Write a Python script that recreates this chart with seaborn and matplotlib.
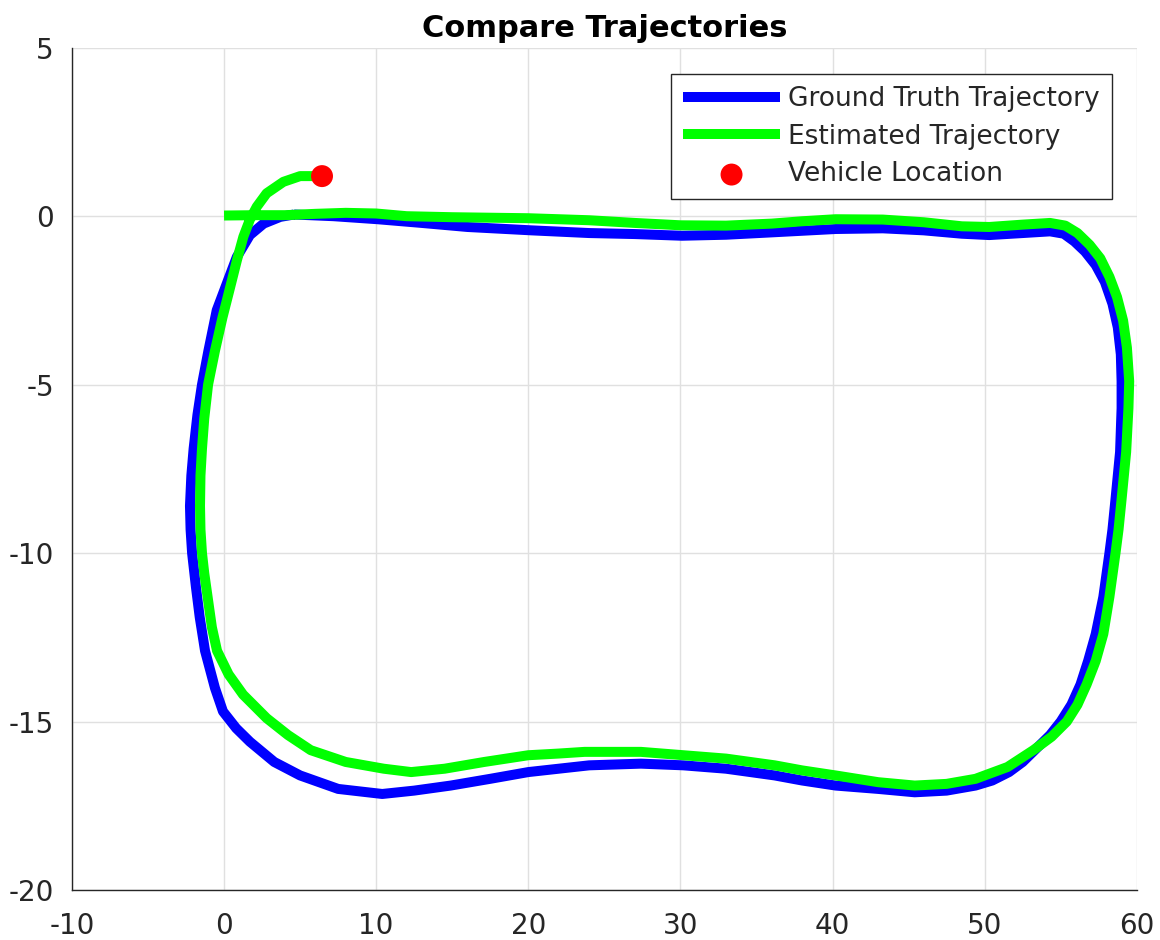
import matplotlib
matplotlib.use("Agg")
import matplotlib.pyplot as plt
import seaborn as sns
import pandas as pd

# Ground truth trajectory (closed loop)
gt_x = [4.6, 7.2, 10.1, 13, 16, 20.2, 24, 27, 30.1, 33, 36, 40.2, 43.3, 46, 48.5, 50.3,
        52.5, 54.3, 55.2, 55.9, 56.6, 57.3, 57.9, 58.4, 58.75, 58.95, 59.0, 59.0, 58.9,
        58.6, 58.4, 58.2, 57.8, 57.3, 56.8, 56.3, 55.7, 55.0, 54.3, 53.4, 52.5, 51.6, 50.5,
        49.4, 47.5, 45.4, 43, 40.2, 38, 36.2, 33, 30.2, 27.4, 24, 20, 17.5, 14.9, 12.5,
        10.4, 7.5, 5.0, 3.3, 1.7, 0.8, -0.07, -0.6, -1.25, -1.6, -1.85, -2.1, -2.2, -2.24,
        -2.15, -2.0, -1.75, -1.45, -1.03, -0.48, 0.18, 0.84, 1.7, 2.6, 3.7, 4.6]
gt_y = [0.05, 0.0, -0.09, -0.2, -0.32, -0.42, -0.5, -0.53, -0.58, -0.55, -0.48, -0.38,
        -0.36, -0.42, -0.52, -0.56, -0.5, -0.45, -0.52, -0.75, -1.05, -1.45, -1.95, -2.6,
        -3.3, -4.1, -4.9, -5.7, -7.0, -8.4, -9.3, -10.0, -11.3, -12.4, -13.2, -13.9, -14.5,
        -15.0, -15.4, -15.8, -16.2, -16.5, -16.75, -16.9, -17.05, -17.1, -17.0, -16.9,
        -16.75, -16.6, -16.4, -16.3, -16.25, -16.3, -16.5, -16.7, -16.9, -17.05, -17.15,
        -17.0, -16.6, -16.2, -15.6, -15.2, -14.7, -14.0, -12.9, -11.9, -11.0, -10.0, -9.3,
        -8.6, -7.7, -6.9, -5.9, -5.0, -4.0, -2.79, -2.0, -1.21, -0.56, -0.22, -0.02, 0.05]

# Estimated trajectory
est_x = [0, 2, 4, 6, 8, 10, 12, 15, 20, 24, 27, 30, 33, 36, 38, 40.2, 43.3, 46, 48.5, 50.3,
         52.5, 54.3, 55.3, 56.1, 56.9, 57.6, 58.2, 58.7, 59.1, 59.35, 59.5, 59.45, 59.3,
         59.0, 58.8, 58.6, 58.2, 57.8, 57.3, 56.7, 56.1, 55.4, 54.4, 53.2, 51.5, 49.4, 47.5,
         45.4, 43, 40.2, 38, 36.2, 33, 30.2, 27.4, 23.7, 22, 20.0, 17.1, 14.5, 12.3, 10.5,
         8, 5.7, 4.2, 2.8, 1.25, 0.3, -0.46, -0.8, -1.05, -1.3, -1.45, -1.55, -1.58, -1.55,
         -1.45, -1.3, -1.05, -0.6, -0.1, 0.35, 0.85, 1.27, 1.7, 2.15, 2.8, 3.9, 5.0, 6.44]
est_y = [0.02, 0.03, 0.03, 0.07, 0.1, 0.08, 0.0, -0.03, -0.06, -0.12, -0.2, -0.27, -0.28,
         -0.22, -0.15, -0.09, -0.1, -0.18, -0.3, -0.32, -0.25, -0.2, -0.28, -0.5, -0.85,
         -1.25, -1.8, -2.4, -3.1, -3.9, -4.9, -5.7, -7.0, -8.4, -9.3, -10.0, -11.3, -12.4,
         -13.2, -13.9, -14.5, -15.0, -15.45, -15.85, -16.35, -16.7, -16.85, -16.9, -16.8,
         -16.6, -16.45, -16.3, -16.1, -16.0, -15.9, -15.9, -15.95, -16.0, -16.2, -16.4,
         -16.5, -16.4, -16.2, -15.85, -15.4, -14.9, -14.2, -13.6, -12.9, -12.2, -11.4,
         -10.6, -10.0, -9.3, -8.6, -7.7, -6.9, -6.0, -5.0, -4.0, -3.0, -2.2, -1.3, -0.61,
         -0.1, 0.28, 0.68, 1.02, 1.19, 1.19]

vehicle_x = [6.44]
vehicle_y = [1.19]

x_ticks = [-10, 0, 10, 20, 30, 40, 50, 60]
y_ticks = [-20, -15, -10, -5, 0, 5]

sns.set_style("white")
plt.rcParams['font.family'] = ['DejaVu Sans']
plt.rcParams['axes.unicode_minus'] = False

fig = plt.figure(figsize=(11.6, 9.4), dpi=100)
ax = fig.add_axes([0.062, 0.0532, 0.918, 0.896])

gt_df = pd.DataFrame({"x": gt_x, "y": gt_y})
est_df = pd.DataFrame({"x": est_x, "y": est_y})
veh_df = pd.DataFrame({"x": vehicle_x, "y": vehicle_y})

sns.lineplot(data=gt_df, x="x", y="y", sort=False, estimator=None, ax=ax,
             color="#0000ff", linewidth=7.2, label="Ground Truth Trajectory",
             solid_joinstyle="round", solid_capstyle="butt", zorder=3)
sns.lineplot(data=est_df, x="x", y="y", sort=False, estimator=None, ax=ax,
             color="#00ff00", linewidth=7.2, label="Estimated Trajectory",
             solid_joinstyle="round", solid_capstyle="butt", zorder=4)
sns.scatterplot(data=veh_df, x="x", y="y", ax=ax, color="#ff0000", s=250,
                edgecolor="none", label="Vehicle Location", zorder=5)

ax.set_xlim(-10, 60)
ax.set_ylim(-20, 5)
ax.set_xticks(x_ticks)
ax.set_yticks(y_ticks)
ax.set_xlabel("")
ax.set_ylabel("")
ax.grid(True, color="#e0e0e0", linewidth=1.0)
ax.set_axisbelow(True)
for s in ["top", "right"]:
    ax.spines[s].set_visible(False)
for s in ["left", "bottom"]:
    ax.spines[s].set_color("#262626")
    ax.spines[s].set_linewidth(1.0)
ax.tick_params(direction="in", length=7, width=1.0, colors="#262626",
               labelsize=20, labelcolor="#262626")
ax.tick_params(axis="x", pad=16)
ax.tick_params(axis="y", pad=13)

ax.set_title("Compare Trajectories", fontsize=22, fontweight="bold", color="black", pad=8)

leg = ax.legend(loc="upper right", bbox_to_anchor=(0.9765, 0.969), fontsize=19,
                frameon=True, fancybox=False, edgecolor="#262626", framealpha=1,
                handlelength=3.7, handletextpad=0.3, borderpad=0.45, labelspacing=0.45,
                borderaxespad=0.0)
leg.get_frame().set_linewidth(1.0)

fig.savefig("out.png", dpi=100)
